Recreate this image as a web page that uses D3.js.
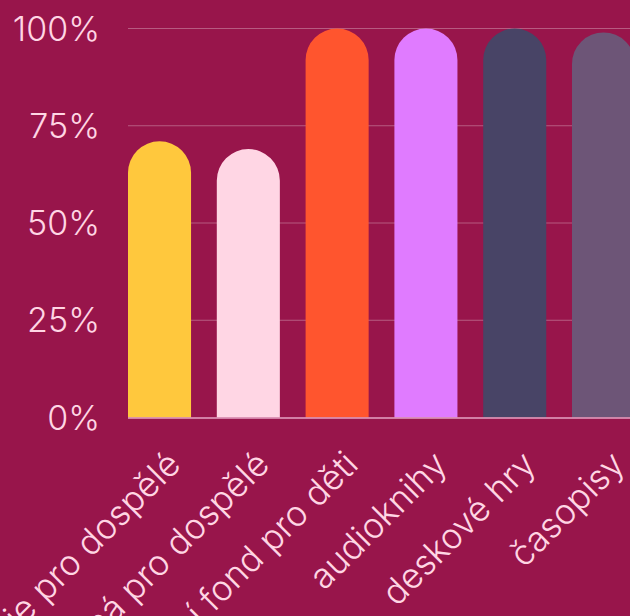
<!DOCTYPE html>
<html>
<head>
<meta charset="utf-8">
<script src="https://cdn.jsdelivr.net/npm/d3@7"></script>
<style>
  html, body { margin: 0; padding: 0; background: #98154b; overflow: hidden; }
  svg { display: block; }
</style>
</head>
<body>
<script>
// data
const categories = ["beletrie pro dospělé", "naučná pro dospělé", "knižní fond pro děti", "audioknihy", "deskové hry", "časopisy"]
const values = [0.71, 0.69, 1.0, 1.0, 1.0, 0.99]
const colors = ["#ffc83d", "#ffd6e4", "#ff552e", "#e07bff", "#484466", "#6d5577"]
const yTicks = [0, 0.25, 0.5, 0.75, 1]

const width = 630
const height = 616
const margin = {top: 28, left: 128, bottom: 198}
const textColor = "#ffd6e4"
const font = "Inter, 'Open Sans', sans-serif"

const svg = d3.select("body").append("svg")
    .attr("width", width)
    .attr("height", height)

svg.append("rect")
    .attr("width", width)
    .attr("height", height)
    .attr("fill", "#98154b")

const y = d3.scaleLinear()
    .domain([0, 1])
    .range([height - margin.bottom - 0.5, margin.top + 0.5])

// bands run a bit past the right edge, the last bar is cut off
const step = 88.8
const x = d3.scaleBand()
    .domain(categories)
    .range([margin.left, margin.left + categories.length * step - 0.29 * step])
    .paddingInner(0.29)
    .paddingOuter(0)

// grid
svg.append("g")
    .selectAll("line")
    .data(yTicks.filter(d => d > 0))
    .join("line")
        .attr("x1", margin.left)
        .attr("x2", width)
        .attr("y1", d => y(d))
        .attr("y2", d => y(d))
        .attr("stroke", "#ffffff")
        .attr("stroke-opacity", 0.3)
        .attr("stroke-width", 1)

// y labels
svg.append("g")
        .attr("font-family", font)
        .attr("font-weight", 300)
        .attr("font-size", 34)
        .attr("fill", textColor)
        .attr("text-anchor", "end")
    .selectAll("text")
    .data(yTicks)
    .join("text")
        .attr("x", margin.left - 28)
        .attr("y", d => y(d))
        .attr("dy", "0.36em")
        .text(d3.format(".0%"))

// bars with round tops
const bar = (d, i) => {
    const x0 = x(categories[i])
    const w = x.bandwidth()
    const r = w / 2
    const y0 = y(0)
    const y1 = y(d)
    return `M${x0},${y0}V${y1 + r}A${r},${r} 0 0 1 ${x0 + w},${y1 + r}V${y0}Z`
}

svg.append("g")
    .selectAll("path")
    .data(values)
    .join("path")
        .attr("fill", (d, i) => colors[i])
        .attr("d", bar)

// baseline
svg.append("line")
    .attr("x1", margin.left)
    .attr("x2", width)
    .attr("y1", y(0) + 0.5)
    .attr("y2", y(0) + 0.5)
    .attr("stroke", "#e6a3c3")
    .attr("stroke-width", 1.5)

// x labels
svg.append("g")
        .attr("font-family", font)
        .attr("font-weight", 300)
        .attr("font-size", 35)
        .attr("fill", textColor)
        .attr("text-anchor", "end")
    .selectAll("text")
    .data(categories)
    .join("text")
        .attr("transform", d => `translate(${x(d) + x.bandwidth() / 2 + 23},${y(0) + 49}) rotate(-45)`)
        .text(d => d)
</script>
</body>
</html>
